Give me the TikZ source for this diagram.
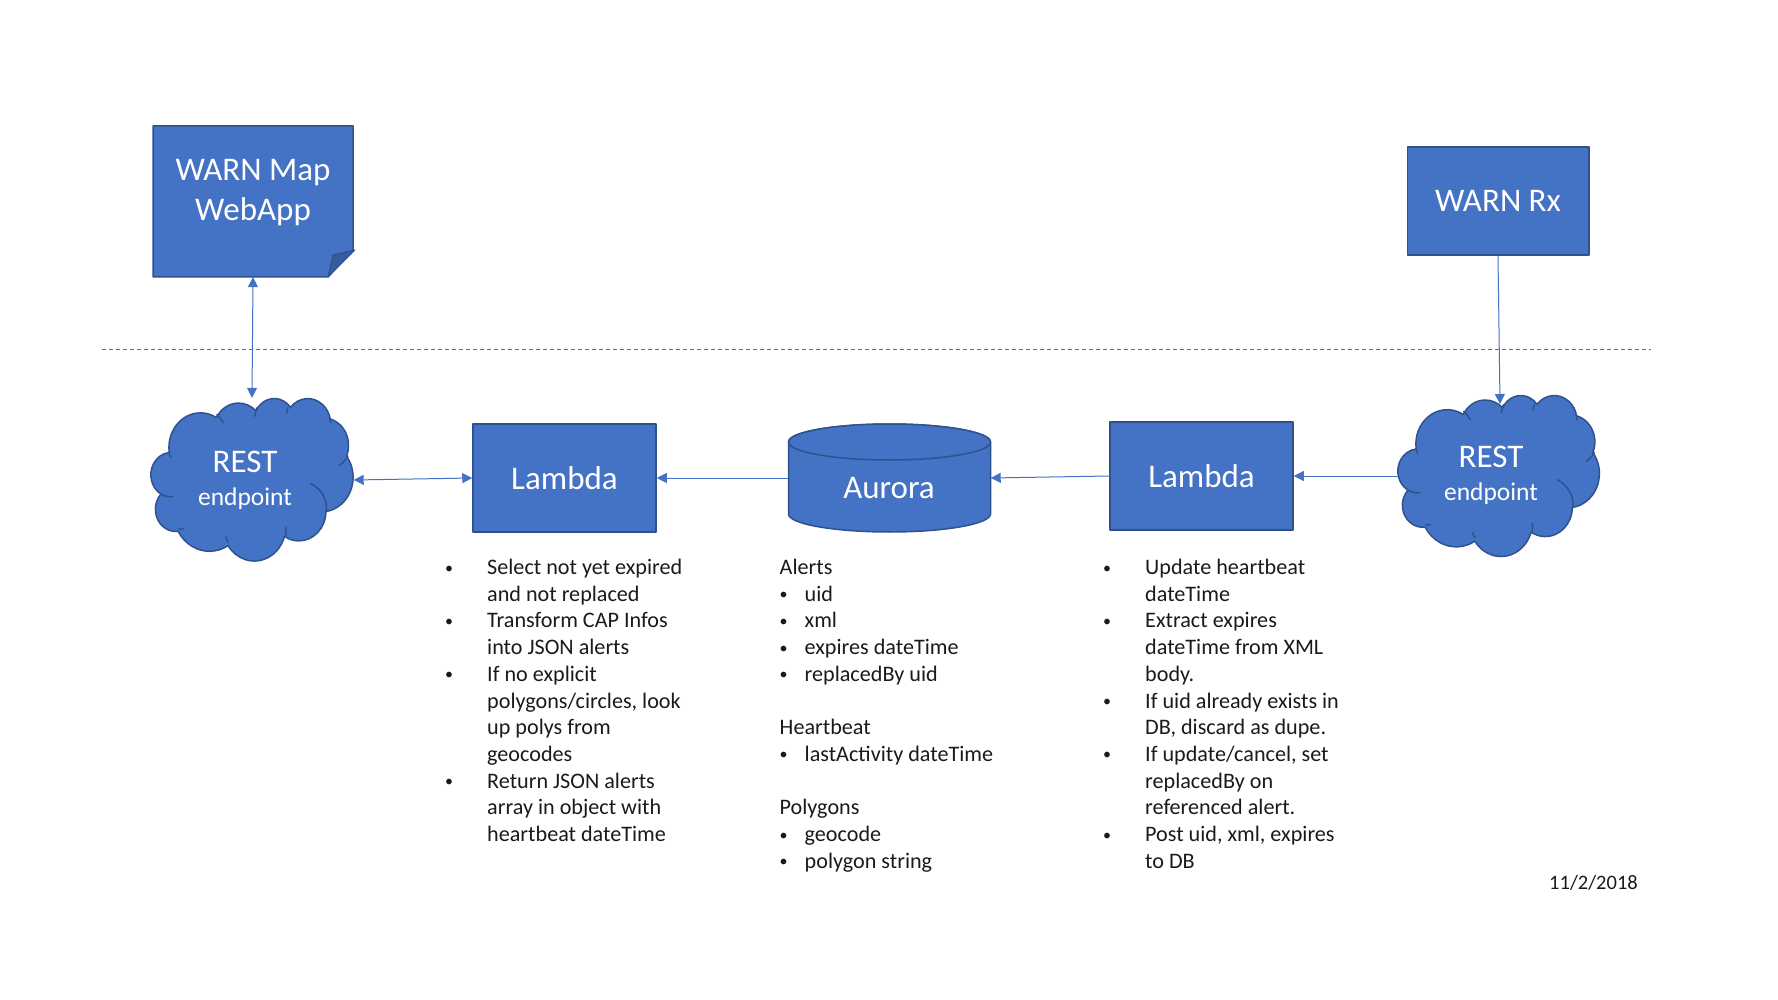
\documentclass[tikz,border=0pt]{standalone}
\usepackage{fontspec}
\setmainfont{Carlito}
\usetikzlibrary{arrows.meta}
\definecolor{fillblue}{HTML}{4472C4}
\definecolor{edgeblue}{HTML}{2F528F}
\definecolor{foldblue}{HTML}{365C9E}
\definecolor{listink}{HTML}{1A1A1A}
\tikzset{
  shapeedge/.style={draw=edgeblue,line width=1.5pt,fill=fillblue,line join=round},
  boxnode/.style={shapeedge,rectangle,inner sep=0pt,text=white,font=\fontsize{33}{40}\selectfont},
  ghost/.style={rectangle,inner sep=0pt,text=white},
  bigtext/.style={text=white,inner sep=0pt,align=center,font=\fontsize{33}{40}\selectfont},
  smalltext/.style={text=white,inner sep=0pt,font=\fontsize{25.5}{30}\selectfont},
  listtext/.style={text=listink,inner sep=0pt,anchor=north west,align=left,font=\fontsize{22.15}{26.7}\selectfont},
  link/.style={draw=fillblue,line width=1pt},
  oneway/.style={link,-{Triangle[length=10pt,width=10pt]}},
  twoway/.style={link,{Triangle[length=10pt,width=10pt]}-{Triangle[length=10pt,width=10pt]}},
  boundary/.style={draw=fillblue,line width=1pt,dash pattern=on 4pt off 3pt}
}
\newcommand{\cloudarc}[4]{%
  \pgfextra{%
    \pgfmathsetmacro\cA{atan2(#1*sin(#3),#2*cos(#3))}%
    \pgfmathsetmacro\cB{atan2(#1*sin(#3+#4),#2*cos(#3+#4))}%
    \pgfmathsetmacro\cD{Mod(\cB-\cA,360)}%
  }
  arc[start angle=\cA,delta angle=\cD,x radius=#1,y radius=#2]}
\newcommand{\cloudshape}{%
  \path[shapeedge] (39,143.7)
    \cloudarc{67.53}{91.90}{-190.4875}{123.7805}
    \cloudarc{53.33}{72.67}{-144.1024}{89.9452}
    \cloudarc{43.65}{59.45}{-145.8079}{99.7230}
    \cloudarc{48.57}{65.95}{-130.9861}{117.2417}
    \cloudarc{53.33}{72.73}{-78.7089}{109.0269}
    \cloudarc{67.75}{92.20}{-46.2673}{130.2690}
    \cloudarc{57.85}{78.67}{0.6250}{114.0333}
    \cloudarc{67.52}{92.15}{22.4516}{115.1726}
    \cloudarc{77.20}{105.43}{66.2426}{75.7110}
    \cloudarc{43.60}{59.18}{-274.9421}{146.7356}
    \cloudarc{43.45}{59.45}{-246.8285}{152.5189}
    -- cycle;
  \draw[edgeblue,line width=1.5pt,line cap=round]
    (47,262) .. controls (38,264) and (28,261) .. (20,255)
    (39,144) .. controls (39,149) and (40,153) .. (42.6,157)
    (140.7,44) .. controls (146,50) and (151,58) .. (155,66)
    (226,26.4) .. controls (224,33) and (223,41) .. (222,48.5)
    (293,26) .. controls (291,31) and (290,36) .. (290,41)
    (382,53) .. controls (383,57) and (384,62) .. (384,66)
    (421,154) .. controls (417,164) and (411,172) .. (403.6,179)
    (341.7,227.5) .. controls (362,240) and (378,268) .. (375,300)
    (288,344) .. controls (289,351) and (289,359) .. (288,366)
    (160.6,370) .. controls (161,375) and (163,379) .. (165,383)
    (59,348) .. controls (63,349) and (67,349) .. (70,348);
}
\newcommand{\dotmark}{\raisebox{1.5pt}{\fontsize{16}{16}\selectfont •}}
\newcommand{\ind}{\makebox[38pt][l]{}}
\newcommand{\bul}{\makebox[38pt][l]{\hspace*{-4pt}\dotmark}}
\newcommand{\bulc}{\makebox[38pt][l]{\hspace*{-4pt}\dotmark}}
\newcommand{\indc}{\makebox[38pt][l]{}}
\newcommand{\bulm}{\makebox[25pt][l]{\dotmark}}
\newcommand{\lifted}[1]{\raisebox{-1.2pt}{#1}}
\begin{document}
\begin{tikzpicture}[x=1pt,y=-1pt]
\useasboundingbox (0,0) rectangle (1778,1000);

% boundary
\coordinate (dashL) at (102,349.5);
\coordinate (dashR) at (1651,349.5);
\draw[boundary] (dashL) -- (dashR);

% WARN Map note
\path[shapeedge] (153,126) -- (353,126) -- (353,250) -- (328,277) -- (153,277) -- cycle;
\path[draw=edgeblue,line width=1pt,fill=foldblue,line join=round] (328,277) -- (333,255) -- (355,250) -- cycle;
\node[ghost,minimum width=200pt,minimum height=151pt] (wm) at (253,201.5) {};
\node[bigtext] (wmtext) at (253,192.5) {WARN Map\\WebApp};

% WARN Rx
\node[boxnode,minimum width=181.5pt,minimum height=108pt] (rx) at (1498,201) {\raisebox{-3pt}{WARN Rx}};

% clouds
\begin{scope}[shift={(151,398)},x=0.4676pt,y=-0.376pt]\cloudshape\end{scope}
\begin{scope}[shift={(1398,395)},x=0.466pt,y=-0.3725pt]\cloudshape\end{scope}
\node[ghost,minimum width=203pt,minimum height=164pt] (cl) at (252,480) {};
\node[ghost,minimum width=203pt,minimum height=162pt] (cr) at (1499.5,476) {};
\node[bigtext] (cltitle) at (245,462) {REST};
\node[smalltext] (clsub) at (245,499) {endpoint};
\node[bigtext] (crtitle) at (1491,457) {REST};
\node[smalltext] (crsub) at (1491,494) {endpoint};
\coordinate (crtop) at (1500,404);

% lambdas
\node[boxnode,minimum width=183pt,minimum height=108pt] (ll) at (564.5,478) {\lifted{Lambda}};
\node[boxnode,minimum width=183pt,minimum height=108pt] (lr) at (1201.5,476) {\lifted{Lambda}};

% Aurora
\path[shapeedge] (788.5,442) arc[start angle=180,end angle=360,x radius=101,y radius=18]
  -- (990.5,514) arc[start angle=0,end angle=180,x radius=101,y radius=18] -- cycle;
\path[shapeedge] (889.5,442) ellipse[x radius=101,y radius=18];
\node[ghost,minimum width=202pt,minimum height=108pt] (au) at (889.5,478) {};
\node[bigtext] (autext) at (889,488) {Aurora};

% connectors
\draw[twoway] (wm.south) -- (cl.north);
\draw[twoway] (cl.east) -- (ll.west);
\draw[oneway] (au.west) -- (ll.east);
\draw[oneway] (lr.west) -- (au.east);
\draw[oneway] (cr.west) -- (lr.east);
\draw[oneway] (rx.south) -- (crtop);

% lists
\node[listtext] (listA) at (449,559) {%
\bul Select not yet expired\\
\ind and not replaced\\
\bul Transform CAP Infos\\
\ind into JSON alerts\\
\bul If no explicit\\
\ind polygons/circles, look\\
\ind up polys from\\
\ind geocodes\\
\bul Return JSON alerts\\
\ind array in object with\\
\ind heartbeat dateTime};

\node[listtext] (listB) at (779.5,559) {%
Alerts\\
\bulm uid\\
\bulm xml\\
\bulm expires dateTime\\
\bulm replacedBy uid\\
\mbox{}\\
Heartbeat\\
\bulm lastActivity dateTime\\
\mbox{}\\
Polygons\\
\bulm geocode\\
\bulm polygon string};

\node[listtext] (listC) at (1107,559) {%
\bulc Update heartbeat\\
\indc dateTime\\
\bulc Extract expires\\
\indc dateTime from XML\\
\indc body.\\
\bulc If uid already exists in\\
\indc DB, discard as dupe.\\
\bulc If update/cancel, set\\
\indc replacedBy on\\
\indc referenced alert.\\
\bulc Post uid, xml, expires\\
\indc to DB};

\node[text=listink,inner sep=0pt,font=\fontsize{20.5}{24}\selectfont] (stamp) at (1593.5,883) {11/2/2018};
\end{tikzpicture}
\end{document}
